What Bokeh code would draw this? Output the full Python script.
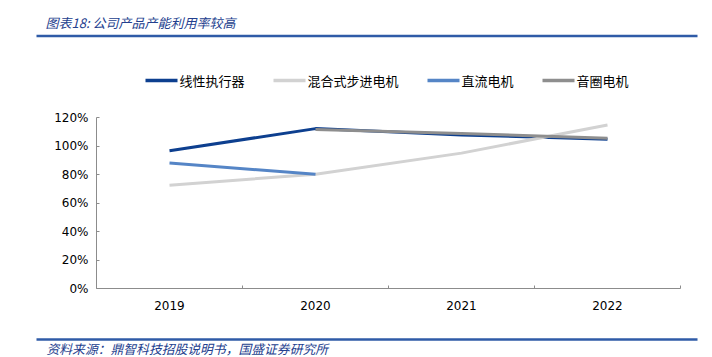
import numpy as np
from bokeh.plotting import figure
from bokeh.layouts import column, row
from bokeh.models import Range1d, FixedTicker, ColumnDataSource
from bokeh.core.properties import value
from bokeh.embed import file_html
from bokeh.resources import INLINE

years = ["2019", "2020", "2021", "2022"]
linear_actuator = [0.967, 1.122, 1.078, 1.047]
hybrid_stepper = [0.725, 0.802, 0.950, 1.148]
dc_motor = [0.880, 0.802, np.nan, np.nan]
voice_coil = [np.nan, 1.115, 1.088, 1.054]
series_names = ["线性执行器", "混合式步进电机", "直流电机", "音圈电机"]
y_ticks = [0.0, 0.2, 0.4, 0.6, 0.8, 1.0, 1.2]
title_text = "图表18:  公司产品产能利用率较高"
source_text = "资料来源：鼎智科技招股说明书，国盛证券研究所"

colors = ["#0D3F8F", "#D2D2D2", "#5585C6", "#8E8E8E"]
rule_color = "#2F5BA7"
note_color = "#23408E"
CJK = "Noto Sans CJK SC"

W = 712
H_HEAD, H_MAIN, H_FOOT = 100, 234, 23


def blank_fig(h):
    f = figure(width=W, height=h, output_backend="svg", toolbar_location=None,
               x_range=Range1d(0, W), y_range=Range1d(h, 0),
               min_border=0, min_border_left=0, min_border_right=0,
               min_border_top=0, min_border_bottom=0,
               x_axis_location=None, y_axis_location=None)
    f.outline_line_color = None
    f.grid.visible = False
    f.background_fill_color = "white"
    f.border_fill_color = "white"
    return f


# ---------- header: title, rule, legend ----------
head = blank_fig(H_HEAD)
head.text(x=[45], y=[22], text=[title_text], text_font=value(CJK),
          text_font_style="italic", text_font_size="13px",
          text_color=note_color, text_baseline="middle", text_align="left")
head.segment(x0=[36], y0=[35.5], x1=[697], y1=[35.5], line_color=rule_color, line_width=2.5)

legend_x = [145, 273, 427, 542]
legend_y = 80
glyph_w = 32
head.segment(x0=legend_x, y0=[legend_y] * 4,
             x1=[x + glyph_w for x in legend_x], y1=[legend_y] * 4,
             line_color=colors, line_width=3.5)
head.text(x=[x + glyph_w + 2 for x in legend_x], y=[legend_y] * 4, text=series_names,
          text_font=value(CJK), text_font_size="13px", text_color="#000000",
          text_baseline="middle", text_align="left")

# ---------- main chart ----------
FL, FR, FT, FB = 96, 32, 17, 46
p = figure(width=W, height=H_MAIN, output_backend="svg", toolbar_location=None,
           x_range=Range1d(0, len(years)), y_range=Range1d(0, 1.2),
           min_border_left=FL, min_border_right=FR, min_border_top=FT,
           min_border_bottom=FB)
p.outline_line_color = None
p.xgrid.grid_line_color = None
p.ygrid.grid_line_color = None
p.background_fill_color = "white"
p.border_fill_color = "white"

xpos = [i + 0.5 for i in range(len(years))]
cds = ColumnDataSource(dict(x=xpos, a=linear_actuator, b=hybrid_stepper,
                            c=dc_motor, d=voice_coil))
for key, col in zip(["a", "b", "c", "d"], colors):
    p.line("x", key, source=cds, line_color=col, line_width=3)

ax = p.xaxis[0]
ax.ticker = FixedTicker(ticks=xpos, minor_ticks=list(range(len(years) + 1)))
ax.major_label_overrides = {x: y for x, y in zip(xpos, years)}
ax.major_tick_line_color = None
ax.major_tick_in = 0
ax.major_tick_out = 0
ax.minor_tick_in = 3
ax.minor_tick_out = 0
ax.minor_tick_line_color = "#8C8C8C"
ax.axis_line_color = "#8C8C8C"
ax.major_label_standoff = 12
ax.major_label_text_font = "DejaVu Sans"
ax.major_label_text_font_size = "12px"
ax.major_label_text_color = "#000000"

ay = p.yaxis[0]
ay.ticker = FixedTicker(ticks=y_ticks, minor_ticks=[])
ay.major_label_overrides = {t: f"{int(round(t*100))}%" for t in y_ticks}
ay.major_tick_in = 3
ay.major_tick_out = 0
ay.major_tick_line_color = "#8C8C8C"
ay.minor_tick_line_color = None
ay.axis_line_color = "#8C8C8C"
ay.major_label_standoff = 8
ay.major_label_text_font = "DejaVu Sans"
ay.major_label_text_font_size = "12px"
ay.major_label_text_color = "#000000"

# ---------- footer ----------
foot = blank_fig(H_FOOT)
foot.segment(x0=[36], y0=[5], x1=[697], y1=[5], line_color=rule_color, line_width=2.5)
foot.text(x=[46], y=[14], text=[source_text], text_font=value(CJK),
          text_font_style="italic", text_font_size="12.8px",
          text_color=note_color, text_baseline="middle", text_align="left")

layout = column(head, row(p, spacing=0), foot, spacing=0)
open("out.html", "w").write(file_html(layout, INLINE))
